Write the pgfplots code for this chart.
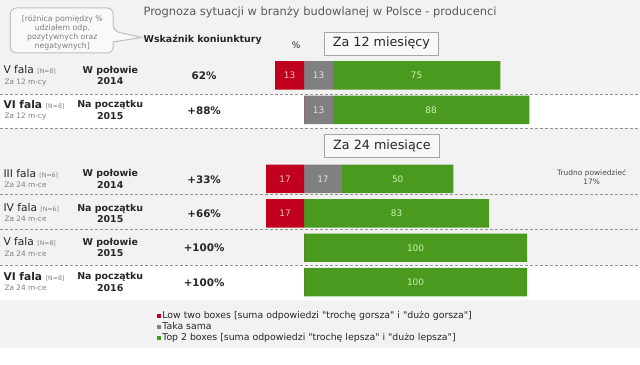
\documentclass[border=0pt]{standalone}
\usepackage{pgfplots}
\pgfplotsset{compat=1.18}
\usepackage{pgfplotstable}
\usepackage{fontspec}
\setmainfont{DejaVu Sans}[Ligatures=TeXOff]
\definecolor{bg}{HTML}{F2F2F2}
\definecolor{cred}{RGB}{192,0,30}
\definecolor{cgray}{RGB}{128,128,128}
\definecolor{cgreen}{RGB}{74,154,32}
\definecolor{txt}{HTML}{262626}
\definecolor{ltxt}{HTML}{7F7F7F}
\definecolor{lred}{HTML}{F6BEC6}
\definecolor{lgray}{HTML}{E0E0E0}
\definecolor{lgreen}{HTML}{CDEFB0}

\pgfplotstableread{
row r g gr
0 13 13 75
1 0 13 88
3 17 17 50
4 17 0 83
5 0 0 100
6 0 0 100
}\data

\pgfplotsset{chartbase/.style={at={(0,0)}, anchor=north west, scale only axis,
  width=640bp, height=365bp, xmin=-136.14, xmax=150.47, ymin=-2.1884, ymax=8.3913,
  y dir=reverse, hide axis, clip=false, /pgf/number format/assume math mode=true}}

\newcommand\ft[1]{\fontsize{#1}{#1}\selectfont}
% #1 yc, #2 font series, #3 fala, #4 N, #5 za, #6 line1, #7 line2, #8 pct
\newcommand\rowtext[8]{%
  \node[anchor=mid west, inner sep=0, text=txt] at (3,{#1-4.5}) {\ft{10.7}#2#3\ {\mdseries\ft{6.2}\color{ltxt}[N=#4]}};
  \node[anchor=mid west, inner sep=0, text=ltxt] at (4,{#1+6}) {\ft{7.4}#5};
  \node[anchor=mid, inner sep=0, text=txt] at (110,{#1-5}) {\ft{9.5}\bfseries #6};
  \node[anchor=mid, inner sep=0, text=txt] at (110,{#1+6.5}) {\ft{9.5}\bfseries #7};
  \node[anchor=mid, inner sep=0, text=txt] at (204,{#1+1.5}) {\ft{10.4}\bfseries #8};
}

\begin{document}
\begin{tikzpicture}
\begin{scope}[x=1bp,y=-1bp]
\path[use as bounding box] (0,0) rectangle (640,365);
\fill[bg] (0,0) rectangle (640,348);
\fill[white] (0,94.3) rectangle (640,128.3);
\fill[white] (0,265.3) rectangle (640,300.5);
\end{scope}

\begin{axis}[chartbase, xbar stacked, bar width=28.5bp, bar shift=0pt]
\addplot[fill=cgray, draw=none] table[x=g, y=row]{\data};
\addplot[fill=cgreen, draw=none] table[x=gr, y=row]{\data};
\end{axis}

\begin{axis}[chartbase]
\addplot[xbar, bar width=28.5bp, bar shift=0pt, fill=cred, draw=none] table[x expr=-\thisrow{r}, y=row]{\data};
\addplot[draw=none, mark=none, nodes near coords, point meta=explicit,
  restrict expr to domain={\thisrow{r}}{1:1000},
  every node near coord/.append style={anchor=center, text=lred, font=\ft{9}}]
  table[x expr=-\thisrow{r}/2, y=row, meta=r]{\data};
\addplot[draw=none, mark=none, nodes near coords, point meta=explicit,
  restrict expr to domain={\thisrow{g}}{1:1000},
  every node near coord/.append style={anchor=center, text=lgray, font=\ft{9}}]
  table[x expr=\thisrow{g}/2, y=row, meta=g]{\data};
\addplot[draw=none, mark=none, nodes near coords, point meta=explicit,
  restrict expr to domain={\thisrow{gr}}{1:1000},
  every node near coord/.append style={anchor=center, text=lgreen, font=\ft{9}}]
  table[x expr=\thisrow{g}+\thisrow{gr}/2, y=row, meta=gr]{\data};
\end{axis}

\begin{scope}[x=1bp,y=-1bp]
% dashed separators
\foreach \yy in {94.3,128.3,195,230,265.3}
  \draw[gray!85, line width=0.7bp, dash pattern=on 3bp off 2bp] (0,\yy) -- (640,\yy);
% title
\node[text=black!65, inner sep=0] at (320,12) {\ft{11.5}Prognoza sytuacji w branży budowlanej w Polsce - producenci};
% callout
\draw[draw=black!25, fill=white!55!bg, line width=1bp, rounded corners=6bp]
  (10,8) -- (113,8) -- (113,31) [sharp corners] -- (141,37.5) -- (113,42) [rounded corners=6bp] -- (113,53) -- (10,53) -- cycle;
\node[text=ltxt, inner sep=0, font=\ft{7.8}] at (62,19) {[różnica pomiędzy \%};
\node[text=ltxt, inner sep=0, font=\ft{7.8}] at (62,28.3) {udziałem odp.};
\node[text=ltxt, inner sep=0, font=\ft{7.8}] at (62,37.6) {pozytywnych oraz};
\node[text=ltxt, inner sep=0, font=\ft{7.8}] at (62,46.9) {negatywnych]};
% headers
\node[text=txt, inner sep=0] at (202.5,40) {\ft{9.5}\bfseries Wskaźnik koniunktury};
\node[text=txt, inner sep=0] at (296,45) {\ft{9}\%};
\draw[draw=black!35, fill=white!50!bg, line width=0.8bp] (324,32) rectangle (439,55);
\node[text=txt, inner sep=0] at (381.5,43.5) {\ft{12.8}Za 12 miesięcy};
\draw[draw=black!35, fill=white!50!bg, line width=0.8bp] (324,135) rectangle (440,158);
\node[text=txt, inner sep=0] at (382,146.5) {\ft{12.8}Za 24 miesiące};
% rows
\rowtext{75.5}{\mdseries}{V fala}{8}{Za 12 m-cy}{W połowie}{2014}{62\%}
\rowtext{110}{\bfseries}{VI fala}{8}{Za 12 m-cy}{Na początku}{2015}{+88\%}
\rowtext{179}{\mdseries}{III fala}{6}{Za 24 m-ce}{W połowie}{2014}{+33\%}
\rowtext{213.5}{\mdseries}{IV fala}{6}{Za 24 m-ce}{Na początku}{2015}{+66\%}
\rowtext{248}{\mdseries}{V fala}{8}{Za 24 m-ce}{W połowie}{2015}{+100\%}
\rowtext{282.5}{\bfseries}{VI fala}{8}{Za 24 m-ce}{Na początku}{2016}{+100\%}
% trudno powiedziec
\node[text=black!70, inner sep=0] at (592,173) {\ft{7.5}Trudno powiedzieć};
\node[text=black!70, inner sep=0] at (592,182) {\ft{7.5}17\%};
% legend
\fill[cred] (156.5,314) rectangle (160.5,318);
\fill[cgray] (156.5,325) rectangle (160.5,329);
\fill[cgreen] (156.5,336) rectangle (160.5,340);
\node[anchor=mid west, inner sep=0, text=txt] at (162,316) {\ft{9.4}Low two boxes [suma odpowiedzi "trochę gorsza" i "dużo gorsza"]};
\node[anchor=mid west, inner sep=0, text=txt] at (162,327) {\ft{9.4}Taka sama};
\node[anchor=mid west, inner sep=0, text=txt] at (162,338) {\ft{9.4}Top 2 boxes [suma odpowiedzi "trochę lepsza" i "dużo lepsza"]};
\end{scope}
\end{tikzpicture}
\end{document}
